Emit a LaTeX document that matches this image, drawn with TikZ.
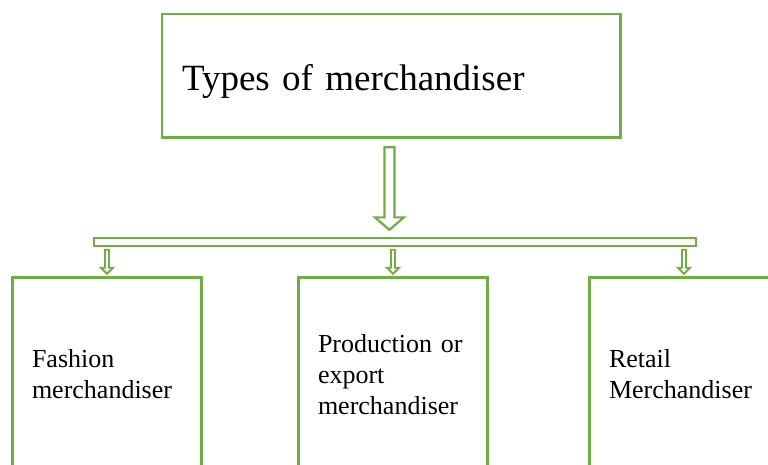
\documentclass[tikz,border=0pt]{standalone}
\usepackage{fontspec}
\setmainfont{Liberation Serif}
\usetikzlibrary{calc}
\definecolor{leafgreen}{RGB}{112,173,71}
\tikzset{
  headbox/.style={draw=leafgreen,line width=2.8,minimum width=458.8,minimum height=123.8,inner xsep=0,text width=418.8,align=left,text height=30.2,text depth=2,font=\fontsize{37}{44}\selectfont},
  typebox/.style={draw=leafgreen,line width=2.8,anchor=north,minimum width=189.5,minimum height=193,inner xsep=0,text width=150,align=left,font=\fontsize{26}{31}\selectfont},
  splitbar/.style={draw=leafgreen,line width=2.3,minimum width=602,minimum height=8,inner sep=0},
  blockarrow/.style={draw=leafgreen,fill=white,line width=1.8,line join=miter},
}

\begin{document}
\begin{tikzpicture}[x=1pt,y=-1pt]
  \clip (0,0) rectangle (768,464);
  \node[headbox] (title) at (391.4,75.9) {Types of merchandiser};
  \node[splitbar] (bar) at (395.3,242) {};
  \node[typebox] (fashion) at (107,276.25) {Fashion\\merchandiser};
  \node[typebox] (export) at (393,276.25) {Production or\\export\\merchandiser};
  \node[typebox] (retail) at (684,276.25) {Retail\\Merchandiser};
  % big arrow from the title down to the bar
  \draw[blockarrow,line width=2.2] ($(title.south)+(-7,8)$) |- ($(bar.north -| title.south)+(-16.5,-19.5)$)
    -- ($(bar.north -| title.south)+(-2,-7)$) -- ($(bar.north -| title.south)+(12.5,-19.5)$)
    -| ($(title.south)+(3,8)$) -- cycle;
  % small arrows from the bar to each box
  \foreach \n in {fashion,export,retail}
    \draw[blockarrow] ($(\n.north |- bar.south)+(-2,2.5)$) |- ($(\n.north)+(-6,-8.5)$)
      -- ($(\n.north)+(0,-2.5)$) -- ($(\n.north)+(6,-8.5)$)
      -| ($(\n.north |- bar.south)+(2,2.5)$) -- cycle;
\end{tikzpicture}
\end{document}
